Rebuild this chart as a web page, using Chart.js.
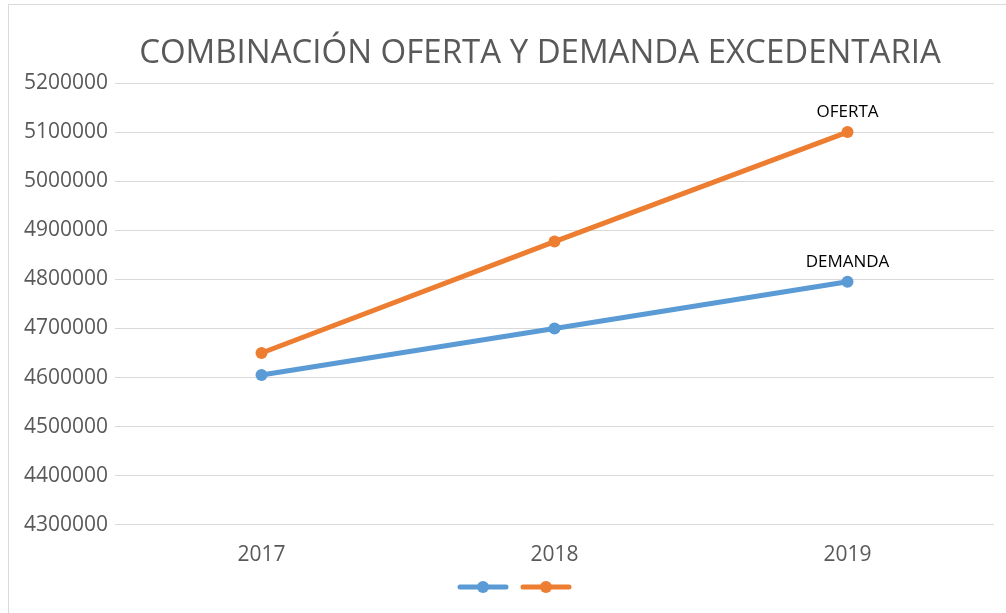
<!DOCTYPE html>
<html>
<head>
<meta charset="utf-8">
<script src="https://cdn.jsdelivr.net/npm/chart.js@4/dist/chart.umd.min.js"></script>
<style>
  body { margin: 0; background: #fff; }
  #wrap { width: 1006px; height: 613px; }
</style>
</head>
<body>
<div id="wrap"><canvas id="grafico" width="1006" height="613"></canvas></div>
<script>
var anos = ["2017", "2018", "2019"];
var demanda = [4605000, 4700000, 4795000];
var oferta = [4650000, 4877000, 5100000];
var nomesSeries = ["DEMANDA", "OFERTA"];
var coresSeries = ["#5B9BD5", "#ED7D31"];
var titulo = "COMBINACIÓN OFERTA Y DEMANDA EXCEDENTARIA";

var fonte = "'Open Sans', sans-serif";

var borda = {
  id: "borda",
  beforeDraw: function (chart) {
    var ctx = chart.ctx;
    ctx.save();
    ctx.strokeStyle = "#d9d9d9";
    ctx.lineWidth = 1;
    ctx.strokeRect(8.5, 4.5, 1200, 800);
    // titulo (fica um pouco a direita do centro, como no original)
    ctx.font = "33px " + fonte;
    ctx.fillStyle = "#595959";
    ctx.textAlign = "center";
    ctx.textBaseline = "middle";
    ctx.fillText(titulo, 540, 54);
    ctx.restore();
  }
};

// legenda so com os marcadores (linha + ponto), sem texto
var legenda = {
  id: "legenda",
  afterDraw: function (chart) {
    var ctx = chart.ctx;
    var y = 587;
    ctx.save();
    chart.data.datasets.forEach(function (ds, i) {
      var cx = 483 + i * 63;
      ctx.strokeStyle = ds.borderColor;
      ctx.fillStyle = ds.borderColor;
      ctx.lineWidth = 5;
      ctx.lineCap = "round";
      ctx.beginPath();
      ctx.moveTo(cx - 23, y);
      ctx.lineTo(cx + 23, y);
      ctx.stroke();
      ctx.beginPath();
      ctx.arc(cx, y, 6, 0, Math.PI * 2);
      ctx.fill();
    });
    ctx.restore();
  }
};

var rotulos = {
  id: "rotulos",
  afterDatasetsDraw: function (chart) {
    var ctx = chart.ctx;
    ctx.save();
    ctx.font = "17px " + fonte;
    ctx.fillStyle = "#000";
    ctx.textAlign = "center";
    ctx.textBaseline = "bottom";
    chart.data.datasets.forEach(function (ds, i) {
      var meta = chart.getDatasetMeta(i);
      var p = meta.data[meta.data.length - 1];
      ctx.fillText(ds.label, p.x, p.y - 11);
    });
    ctx.restore();
  }
};

const ctx = document.getElementById("grafico").getContext("2d");

const grafico = new Chart(ctx, {
  type: "line",
  data: {
    labels: anos,
    datasets: [
      {
        label: nomesSeries[0],
        data: demanda,
        borderColor: coresSeries[0],
        backgroundColor: coresSeries[0],
        borderWidth: 5,
        pointRadius: 6,
        pointHoverRadius: 6,
        pointBorderWidth: 0,
        pointStyle: "circle",
        tension: 0
      },
      {
        label: nomesSeries[1],
        data: oferta,
        borderColor: coresSeries[1],
        backgroundColor: coresSeries[1],
        borderWidth: 5,
        pointRadius: 6,
        pointHoverRadius: 6,
        pointBorderWidth: 0,
        pointStyle: "circle",
        tension: 0
      }
    ]
  },
  options: {
    responsive: false,
    animation: false,
    layout: { padding: { left: 0, right: 12, top: 83, bottom: 35 } },
    plugins: {
      title: { display: false },
      legend: { display: false },
      tooltip: { enabled: false }
    },
    scales: {
      x: {
        offset: true,
        grid: { display: false },
        border: { display: false },
        ticks: {
          color: "#595959",
          font: { family: fonte, size: 21 },
          padding: 10
        }
      },
      y: {
        min: 4300000,
        max: 5200000,
        afterFit: function (s) { s.width = 115; },
        grid: { color: "#d9d9d9", lineWidth: 1, drawTicks: false },
        border: { display: false },
        ticks: {
          stepSize: 100000,
          color: "#595959",
          font: { family: fonte, size: 21 },
          padding: 7,
          callback: function (v) { return String(v); }
        }
      }
    }
  },
  plugins: [borda, legenda, rotulos]
});
</script>
</body>
</html>
